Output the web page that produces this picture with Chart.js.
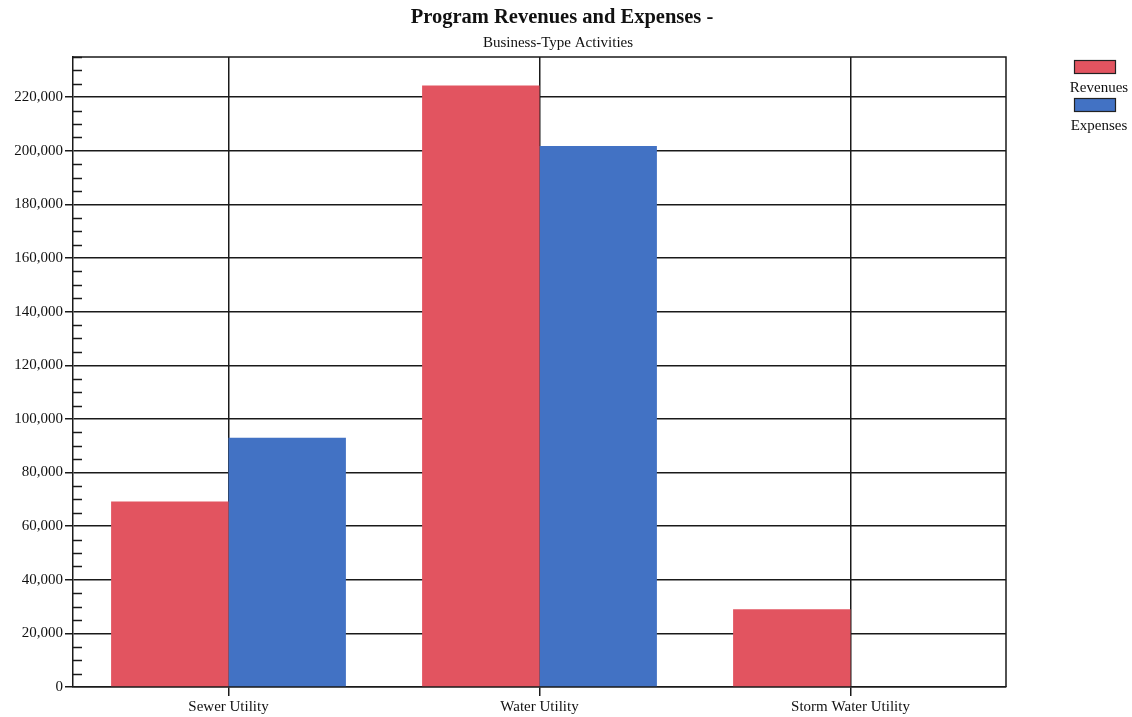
<!DOCTYPE html>
<html><head><meta charset="utf-8">
<script src="https://cdn.jsdelivr.net/npm/chart.js@4"></script>
<style>html,body{margin:0;padding:0;background:#fff;}#wrap{width:1132px;height:717px;}</style>
</head><body><div id="wrap"><canvas id="c" width="1132" height="717"></canvas></div>
<script>
const titleText = 'Program Revenues and Expenses -';
const subtitleText = 'Business-Type Activities';
const categories = ['Sewer Utility', 'Water Utility', 'Storm Water Utility'];
const revenues = [69200, 224400, 29000];
const expenses = [93000, 201800, 0];
const seriesNames = ['Revenues', 'Expenses'];
const yTicks = [0, 20000, 40000, 60000, 80000, 100000, 120000, 140000, 160000, 180000, 200000, 220000];
const yMax = 235000;
const minorStep = 5000;

const SERIF = '"Liberation Serif", "Times New Roman", serif';
const RED = 'rgb(226,84,96)';
const BLUE = 'rgb(66,114,196)';
const LINE = '#1a1a1a';

const decor = {
  id: 'decor',
  afterDraw(chart) {
    const ctx = chart.ctx, a = chart.chartArea, y = chart.scales.y;
    ctx.save();
    ctx.fillStyle = '#111';
    ctx.textAlign = 'center';
    ctx.textBaseline = 'alphabetic';
    ctx.font = 'bold 20.5px ' + SERIF;
    ctx.fillText(titleText, 562, 23);
    ctx.font = '15px ' + SERIF;
    ctx.fillText(subtitleText, 558, 47);
    // frame
    ctx.strokeStyle = LINE;
    ctx.lineWidth = 1.5;
    ctx.beginPath();
    ctx.moveTo(a.left, a.top); ctx.lineTo(a.right, a.top); ctx.lineTo(a.right, a.bottom);
    ctx.stroke();
    // minor ticks inside
    for (let v = minorStep; v <= yMax; v += minorStep) {
      if (yTicks.includes(v)) continue;
      const py = Math.round(y.getPixelForValue(v)) + 0.5;
      ctx.beginPath(); ctx.moveTo(a.left, py); ctx.lineTo(a.left + 9, py); ctx.stroke();
    }
    // legend
    const colors = [RED, BLUE];
    const cx = 1095;
    seriesNames.forEach((n, i) => {
      const top = 60 + i * 38;
      ctx.fillStyle = colors[i];
      ctx.fillRect(cx - 21, top, 42, 14);
      ctx.strokeStyle = '#222'; ctx.lineWidth = 1.2;
      ctx.strokeRect(cx - 21 + 0.5, top + 0.5, 41, 13);
      ctx.fillStyle = '#111';
      ctx.font = '15px ' + SERIF;
      ctx.textAlign = 'center';
      ctx.fillText(n, cx + 4, top + 32);
    });
    ctx.restore();
  }
};

new Chart(document.getElementById('c'), {
  type: 'bar',
  data: {
    labels: categories,
    datasets: [
      { label: seriesNames[0], data: revenues, backgroundColor: RED, borderWidth: 0 },
      { label: seriesNames[1], data: expenses, backgroundColor: BLUE, borderWidth: 0 }
    ]
  },
  options: {
    responsive: false,
    animation: false,
    layout: { padding: { top: 57, right: 126, left: 0, bottom: 0 } },
    datasets: { bar: { categoryPercentage: 0.755, barPercentage: 1.0 } },
    plugins: { legend: { display: false }, title: { display: false }, tooltip: { enabled: false } },
    scales: {
      x: {
        z: 1,
        grid: { offset: false, color: LINE, lineWidth: 1.5, tickLength: 9, tickColor: LINE },
        border: { color: LINE, width: 1.5 },
        ticks: { color: '#111', font: { family: SERIF, size: 15 }, padding: 2 },
        afterFit(s) { s.height = 30; }
      },
      y: {
        z: 1,
        min: 0, max: yMax,
        afterBuildTicks(s) { s.ticks = yTicks.map(v => ({ value: v })); },
        grid: { color: LINE, lineWidth: 1.5, tickLength: 8, tickColor: LINE },
        border: { color: LINE, width: 1.5 },
        ticks: {
          color: '#111', font: { family: SERIF, size: 15 }, padding: 2,
          callback: v => Number(v).toLocaleString('en-US')
        },
        afterFit(s) { s.width = 73; }
      }
    }
  },
  plugins: [decor]
});
</script></body></html>
